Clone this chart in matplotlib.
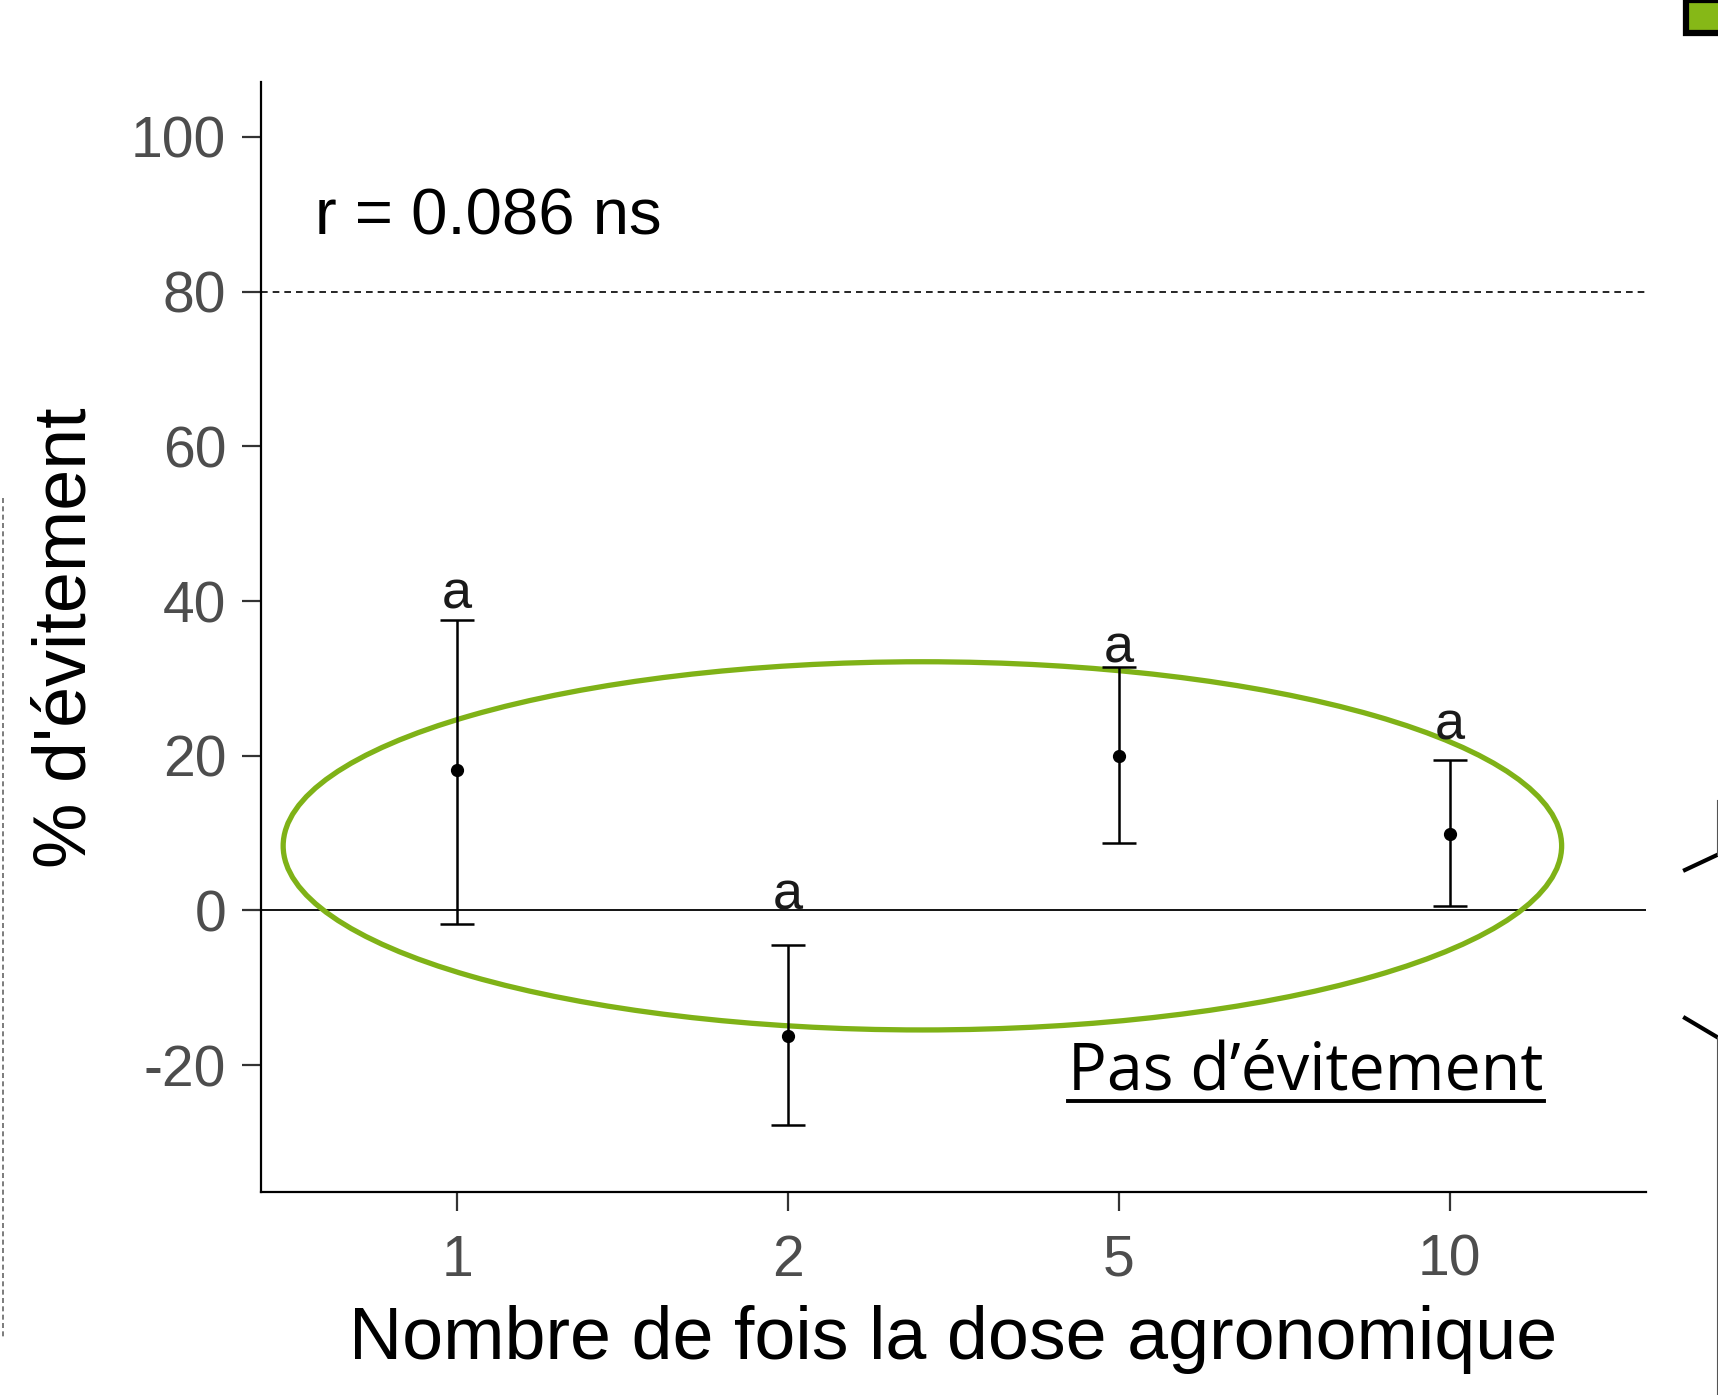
import matplotlib
matplotlib.use("Agg")
import matplotlib.pyplot as plt
from matplotlib.patches import Ellipse, Rectangle
from matplotlib.lines import Line2D

plt.rcParams['font.family'] = ['Liberation Sans', 'DejaVu Sans']
plt.rcParams['axes.unicode_minus'] = False

# données
doses = ["1", "2", "5", "10"]
moyennes = [18.1, -16.2, 20.0, 9.9]
bornes_basses = [-1.7, -27.7, 8.7, 0.6]
bornes_hautes = [37.5, -4.5, 31.5, 19.4]
lettres = ["a", "a", "a", "a"]
lettres_y = [39.0, 0.1, 32.1, 22.1]
y_ticks = [-20, 0, 20, 40, 60, 80, 100]
seuil = 80

W, H = 1718, 1395
fig = plt.figure(figsize=(W / 100, H / 100), dpi=100)
ax = fig.add_axes([261 / W, 1 - 1192 / H, (1646 - 261) / W, (1192 - 82) / H])

x = list(range(1, len(doses) + 1))
err_bas = [m - b for m, b in zip(moyennes, bornes_basses)]
err_haut = [h - m for m, h in zip(moyennes, bornes_hautes)]

# lignes de référence
ax.axhline(0, color='#000000', lw=1.3, zorder=1)
ax.axhline(seuil, color='#000000', lw=1.2, linestyle=(0, (4, 3)), zorder=1)

# moyennes et intervalles
ax.errorbar(x, moyennes, yerr=[err_bas, err_haut], fmt='o', color='#000000',
            ms=8.5, elinewidth=1.8, capsize=12, capthick=1.8, zorder=3)
for xi, l, ly in zip(x, lettres, lettres_y):
    ax.text(xi, ly, l, ha='center', va='baseline', fontsize=39, color='#1a1a1a')

ax.text(0.57, 89.6, "r = 0.086 ns", ha='left', va='center', fontsize=47, color='#000000')

# ellipse verte
ax.add_patch(Ellipse((2.406, 8.35), 3.864, 47.6, fill=False, edgecolor='#7fb217', lw=3.8, zorder=2))

# texte souligné
t = ax.text(2.847, -23.2, "Pas d\u2019évitement", ha='left', va='baseline',
            fontsize=46.5, family=['Open Sans', 'DejaVu Sans'], color='#000000')

ax.set_xlim(0.407, 4.593)
ax.set_ylim(-36.4, 107.1)
ax.set_xticks(x)
ax.set_xticklabels(doses)
ax.set_yticks(y_ticks)
ax.set_yticklabels([str(v) for v in y_ticks])
ax.tick_params(axis='both', labelsize=41, labelcolor='#4d4d4d', color='#333333',
               length=14, width=1.6)
ax.tick_params(axis='y', pad=11)
ax.tick_params(axis='x', pad=16)
for s in ['top', 'right']:
    ax.spines[s].set_visible(False)
for s in ['left', 'bottom']:
    ax.spines[s].set_linewidth(1.6)
    ax.spines[s].set_color('#000000')

fig.text(66 / W, 1 - 638 / H, "% d'évitement", rotation=90, ha='center', va='center', fontsize=53)
fig.text(953 / W, 1 - 1339 / H, "Nombre de fois la dose agronomique", ha='center', va='center', fontsize=53)

# soulignement sous "Pas d'évitement"
fig.canvas.draw()
bb = t.get_window_extent()
fig.add_artist(Line2D([bb.x0 / W, bb.x1 / W], [1 - 1101 / H, 1 - 1101 / H], color='#000000', lw=2.8))

# éléments de la diapositive autour du graphique
fig.add_artist(Rectangle((1686 / W, 1 - 33 / H), 40 / W, 33 / H, facecolor='#86b817',
                         edgecolor='#000000', lw=4.5, clip_on=False))
fig.add_artist(Line2D([1685 / W, 1717 / W], [1 - 870 / H, 1 - 855 / H], color='#000000', lw=3))
fig.add_artist(Line2D([1717 / W, 1717 / W], [1 - 855 / H, 1 - 800 / H], color='#555555', lw=0.8))
fig.add_artist(Line2D([1685 / W, 1717 / W], [1 - 1018 / H, 1 - 1037 / H], color='#000000', lw=3))
fig.add_artist(Line2D([1717 / W, 1717 / W], [1 - 1037 / H, 0], color='#555555', lw=0.8))
fig.add_artist(Line2D([3 / W, 3 / W], [1 - 498 / H, 1 - 1337 / H], color='#666666', lw=1.2,
                      linestyle=(0, (3, 2))))

fig.savefig("out.png", dpi=100)
